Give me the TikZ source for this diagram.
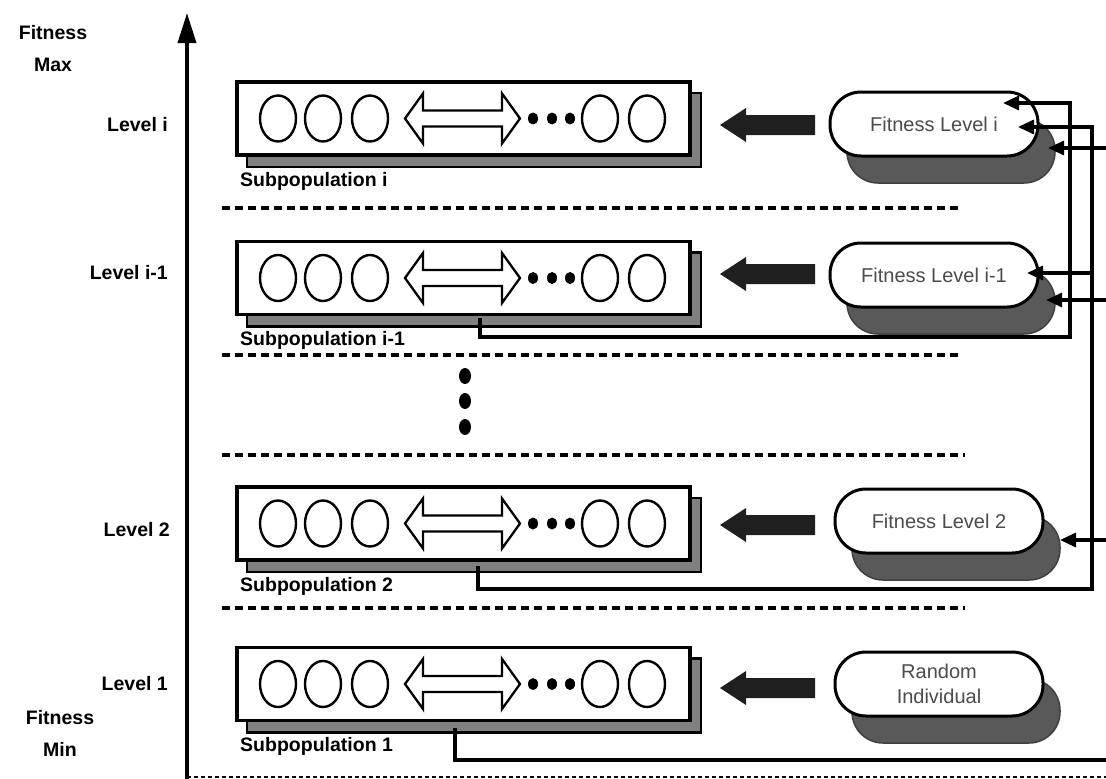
\documentclass[tikz,border=0pt]{standalone}
\usepackage{fontspec}
\setmainfont{Liberation Sans}
\usetikzlibrary{arrows.meta}
\newcommand\SubRow[4]{%
  \fill[black!50, draw=black, line width=2.5pt] (247,#2-25.5) rectangle (701,#2+48.5);
  \node[subbox] (#1) at (463.5,#2) {};
  \foreach \cx in {278,323,370,600,647}
    \draw[line width=2.4pt] (\cx,#2) ellipse [x radius=18, y radius=23];
  \draw[line width=2.3pt, line join=miter] (405,#2) -- (423,#2-25) -- (423,#2-8) -- (502,#2-8) -- (502,#2-25)
     -- (520,#2) -- (502,#2+25) -- (502,#2+8) -- (423,#2+8) -- (423,#2+25) -- cycle;
  \foreach \cx in {533,552,570}
    \fill (\cx,#2) ellipse [x radius=5, y radius=6];
  \node[lab, anchor=west] (#1-t) at (240,#2+62.5) {#3};
}
\newcommand\ThickArrow[1]{%
  \fill[black!88] (720,#1) -- (746,#1-17) -- (746,#1-10) -- (815,#1-10) -- (815,#1+10) -- (746,#1+10) -- (746,#1+17) -- cycle;
}
\begin{document}
\begin{tikzpicture}[x=1pt,y=-1pt,
  lab/.style={font=\bfseries\fontsize{19.5}{22}\selectfont, inner sep=0pt},
  subbox/.style={draw, line width=3.4pt, fill=white, minimum width=453pt, minimum height=73pt, inner sep=0pt},
  fitbox/.style={draw, line width=3pt, fill=white, rounded corners=31pt, minimum width=208pt,
     minimum height=64pt, inner sep=0pt, font=\fontsize{20}{23}\selectfont, text=black!70, align=center},
  fitshadow/.style={fill=black!65, draw=black!75, line width=1.5pt, rounded corners=31pt, minimum width=208pt,
     minimum height=64pt, inner sep=0pt},
  conn/.style={line width=3.2pt},
  tipa/.style={-{Triangle[length=16pt,width=14pt]}},
  sepline/.style={line width=3.6pt, dash pattern=on 8pt off 5pt},
]
\useasboundingbox (0,0) rectangle (1106,779);
% axis
\draw[line width=3.6pt, -{Triangle[length=30pt,width=18pt]}] (187,779) -- (187,13);
\draw[line width=1.5pt, dash pattern=on 4pt off 3pt] (187,777) -- (1106,777);
% axis labels
\node[lab, align=center] (fmax) at (53,49) {Fitness\\[10pt]Max};
\node[lab, align=center] (fmin) at (60,733) {Fitness\\[10pt]Min};
\node[lab, anchor=east] (li) at (168,125) {Level i};
\node[lab, anchor=east] (lim) at (168,273) {Level i-1};
\node[lab, anchor=east] (l2) at (170,530) {Level 2};
\node[lab, anchor=east] (l1) at (168,684) {Level 1};
% separators
\draw[sepline] (222,208) -- (958,208);
\draw[sepline] (222,355) -- (958,355);
\draw[sepline] (222,455) -- (965,455);
\draw[sepline] (222,608) -- (965,608);
% vertical dots
\foreach \yy in {376,401,427}
  \fill (465,\yy) ellipse [x radius=6, y radius=8];
% rows
\SubRow{si}{118.5}{Subpopulation i}{}
\SubRow{sim}{278}{Subpopulation i-1}{}
\SubRow{s2}{523.5}{Subpopulation 2}{}
\SubRow{s1}{684}{Subpopulation 1}{}
\ThickArrow{125}
\ThickArrow{274}
\ThickArrow{525}
\ThickArrow{688}
% fitness boxes
\node[fitshadow] (fi-s) at (951,151) {};
\node[fitbox] (fi) at (934,124) {Fitness Level i};
\node[fitshadow] (fim-s) at (951,302) {};
\node[fitbox] (fim) at (934,275) {Fitness Level i-1};
\node[fitshadow] (f2-s) at (956,548) {};
\node[fitbox] (f2) at (939,521) {Fitness Level 2};
\node[fitshadow] (fr-s) at (956,711) {};
\node[fitbox] (fr) at (939,684) {Random\\[2pt]Individual};
% connector coordinates
\coordinate (a1) at (1003,103);
\coordinate (a2) at (1018,127);
\coordinate (a3) at (1048,148);
\coordinate (b1) at (1027,273);
\coordinate (b2) at (1046,300);
\coordinate (c1) at (1060,540);
\coordinate (ei) at (1106,148);
\coordinate (eim) at (1106,300);
\coordinate (e2) at (1106,540);
\coordinate (e1) at (1106,760);
% subpopulation i-1 -> fitness level i
\draw[conn, tipa] (480,318) -- (480,337) -- (1070,337) -- (1070,103) -- (a1);
% subpopulation 2 -> fitness level i and i-1
\draw[conn, tipa] (478,566) -- (478,589) -- (1092,589) -- (1092,127) -- (a2);
\draw[conn, tipa] (1092,273) -- (b1);
% lines from the right edge
\draw[conn, tipa] (ei) -- (a3);
\draw[conn, tipa] (eim) -- (b2);
\draw[conn, tipa] (e2) -- (c1);
% subpopulation 1
\draw[conn] (455,728) -- (455,760) -- (e1);
\end{tikzpicture}
\end{document}
